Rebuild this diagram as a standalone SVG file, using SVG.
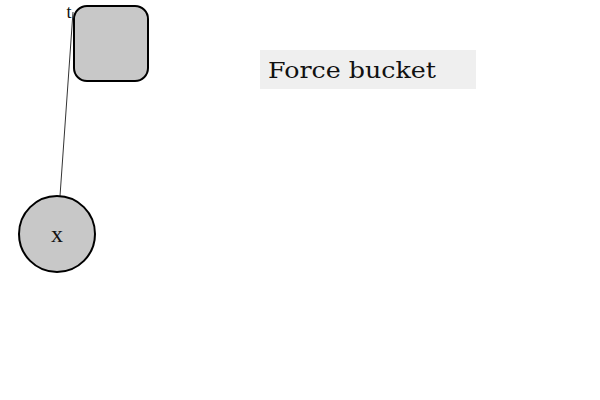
<svg xmlns="http://www.w3.org/2000/svg" width="600" height="400" viewBox="0 0 600 400">
<style>
.node{fill:#c8c8c8;stroke:#000;stroke-width:2}
.lbl{font-family:"Liberation Serif","DejaVu Serif",serif;fill:#111}
.edge{stroke:#000;stroke-width:0.8;fill:none}
</style>
<rect width="600" height="400" fill="#fff"/>
<g id="connectors">
<line class="edge" x1="60" y1="196" x2="73" y2="12"/>
</g>
<g id="node-t">
<rect class="node" x="74" y="6" width="74" height="75" rx="13"/>
<text class="lbl" x="69" y="18" font-size="18" text-anchor="middle">t</text>
</g>
<g id="node-x">
<circle class="node" cx="57" cy="234" r="38"/>
<text class="lbl" x="57" y="242" font-size="24" text-anchor="middle">x</text>
</g>
<g id="title">
<rect x="260" y="50" width="216" height="39" fill="#efefef"/>
<text x="268" y="78" font-family="'DejaVu Serif','Liberation Serif',serif" font-size="22" textLength="168" lengthAdjust="spacingAndGlyphs" fill="#111">Force bucket</text>
</g>
</svg>
